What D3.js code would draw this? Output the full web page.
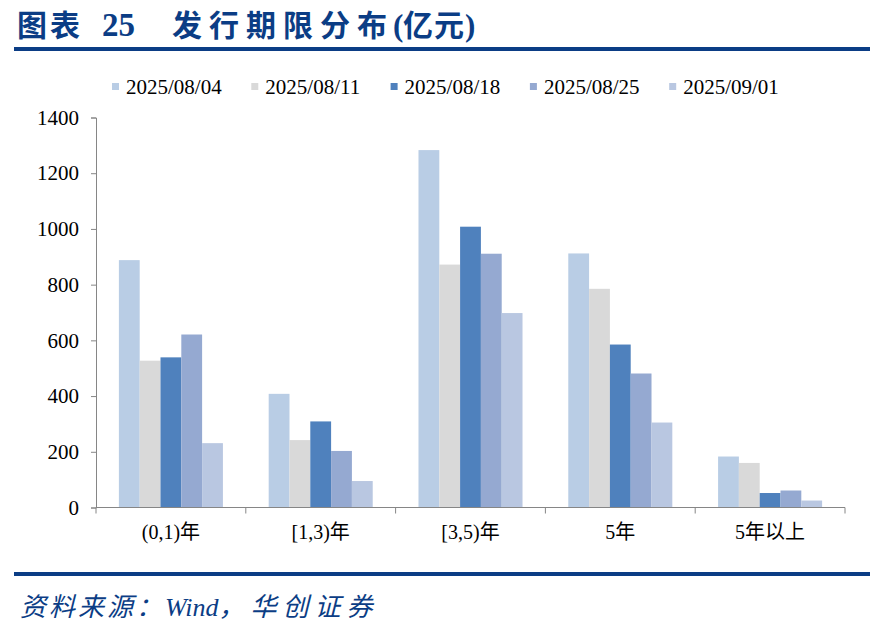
<!DOCTYPE html>
<html><head><meta charset="utf-8">
<script src="https://cdn.jsdelivr.net/npm/d3@7"></script>
<style>body{margin:0;background:#fff}svg{display:block}</style>
</head><body>
<svg id="c" width="874" height="635"></svg>
<script>
const categories = ["(0,1)年", "[1,3)年", "[3,5)年", "5年", "5年以上"];
const seriesNames = ["2025/08/04", "2025/08/11", "2025/08/18", "2025/08/25", "2025/09/01"];
// one array per series (values per category, 亿元)
const s20250804 = [888, 408, 1283, 912, 183];
const s20250811 = [527, 242, 872, 785, 160];
const s20250818 = [539, 309, 1008, 585, 52];
const s20250825 = [621, 203, 911, 481, 61];
const s20250901 = [231, 95, 698, 305, 25];
const seriesValues = [s20250804, s20250811, s20250818, s20250825, s20250901];
const colors = ["#B9CDE5", "#D9D9D9", "#4F81BD", "#95A9D1", "#B9C7E1"];
const yTicks = [0, 200, 400, 600, 800, 1000, 1200, 1400];

const svg = d3.select("#c");
const navy = "#0B3D85";
const serif = "'Liberation Serif', 'Times New Roman', serif";
const cjk = "'Noto Sans CJK SC', sans-serif";

// title (separate pieces)
function tt(x, txt, fam, size, ls) {
  svg.append("text").attr("x", x).attr("y", 35.5).attr("fill", navy)
    .style("font-weight", "bold").style("font-size", size + "px")
    .style("font-family", fam).style("letter-spacing", (ls || 0) + "px").text(txt);
}
tt(17, "图表", cjk, 30, 3);
tt(102, "25", serif, 33);
tt(172, "发行期限分布", cjk, 30, 7);
tt(393, "(", serif, 31);
tt(403, "亿元", cjk, 30, 1);
tt(465, ")", serif, 31);

svg.append("rect").attr("x", 14).attr("y", 47).attr("width", 856).attr("height", 4).attr("fill", navy);
svg.append("rect").attr("x", 14).attr("y", 572).attr("width", 856).attr("height", 4).attr("fill", navy);

// source
const src = svg.append("text").attr("x", 20).attr("y", 616).attr("fill", navy)
  .style("font-size", "26px").style("font-style", "italic");
src.append("tspan").style("font-family", cjk).style("letter-spacing", "3px").text("资料来源：");
src.append("tspan").style("font-family", serif).text("Wind");
src.append("tspan").style("font-family", cjk).style("letter-spacing", "6px").text("，华创证券");

// scales
const y = d3.scaleLinear().domain([0, 1400]).range([507.5, 117.5]);
const x0 = d3.scaleBand().domain(categories).range([96, 845]).padding(0);
const x1 = d3.scaleBand().domain(seriesNames).range([0, x0.bandwidth()]).paddingInner(0).paddingOuter(1.1);

// bars
const g = svg.append("g");
seriesNames.forEach((s, si) => {
  g.append("g").selectAll("rect").data(seriesValues[si]).enter().append("rect")
    .attr("x", (v, ci) => x0(categories[ci]) + x1(s))
    .attr("y", v => y(v))
    .attr("width", x1.bandwidth())
    .attr("height", v => y(0) - y(v))
    .attr("fill", colors[si]);
});

// y axis
const yAxis = d3.axisLeft(y).tickValues(yTicks).tickSize(5).tickPadding(12).tickFormat(d3.format("d"));
const ya = svg.append("g").attr("transform", "translate(96,0)").call(yAxis);
ya.attr("font-family", null).attr("font-size", null);
ya.select(".domain").attr("stroke", "#868686");
ya.selectAll(".tick line").attr("stroke", "#868686");
ya.selectAll(".tick text").style("font-family", serif).style("font-size", "21px").attr("fill", "#000");

// x axis
const xAxis = d3.axisBottom(x0).tickSize(0).tickPadding(17);
const xa = svg.append("g").attr("transform", "translate(0,507.5)").call(xAxis);
xa.attr("font-family", null).attr("font-size", null);
xa.select(".domain").attr("stroke", "#868686").attr("d", "M96,0H845");
xa.selectAll(".tick text").style("font-family", "'Liberation Serif', 'Noto Sans CJK SC', serif").style("font-size", "20px").attr("fill", "#000");
const bounds = categories.map(c => x0(c)).concat([x0(categories[categories.length - 1]) + x0.bandwidth()]);
xa.selectAll(".bnd").data(bounds).enter().append("line")
  .attr("x1", d => d).attr("x2", d => d).attr("y1", 0).attr("y2", 6)
  .attr("stroke", "#868686");

// legend
const lg = svg.append("g");
seriesNames.forEach((s, i) => {
  const lx = 112 + i * 139.3;
  lg.append("rect").attr("x", lx).attr("y", 83).attr("width", 7).attr("height", 7).attr("fill", colors[i]);
  lg.append("text").attr("x", lx + 14).attr("y", 94).style("font-family", serif)
    .style("font-size", "21px").attr("fill", "#000").text(s);
});
</script>
</body></html>
